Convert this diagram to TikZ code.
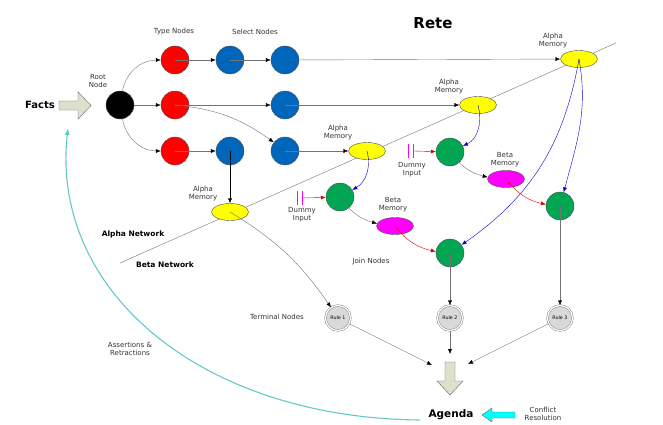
\documentclass[tikz,border=0pt]{standalone}
\usepackage{fontspec}
\setmainfont{DejaVu Sans}
\usetikzlibrary{arrows.meta,shapes.geometric}
\definecolor{selblue}{RGB}{0,102,187}
\definecolor{joingreen}{RGB}{0,166,81}
\definecolor{factgray}{RGB}{221,224,203}
\definecolor{assertcyan}{RGB}{100,200,205}
\definecolor{memyellow}{RGB}{255,255,0}
\definecolor{memmagenta}{RGB}{255,0,255}
\definecolor{cflcyan}{RGB}{0,255,255}

\begin{document}
\begin{tikzpicture}[x=1pt,y=1pt,
  every node/.style={font=\fontsize{7}{8}\selectfont},
  ball/.style={circle,draw=black!70,minimum size=28pt,inner sep=0pt},
  typenode/.style={ball,fill=red},
  selnode/.style={ball,fill=selblue},
  joinnode/.style={ball,fill=joingreen},
  alphamem/.style={ellipse,draw=black!70,fill=memyellow,minimum width=37pt,minimum height=17pt,inner sep=0pt},
  betamem/.style={alphamem,fill=memmagenta},
  termnode/.style={circle,draw=black!55,double=white,double distance=1.3pt,fill=gray!30,minimum size=25pt,inner sep=0pt,font=\fontsize{4.8}{5}\selectfont},
  lbl/.style={align=center,text=black!80},
  netlbl/.style={font=\bfseries\fontsize{7.5}{8}\selectfont},
  dummybar/.style={minimum width=5pt,minimum height=13pt,inner sep=0pt},
  link/.style={draw=black!55,-{Latex[black,length=5pt,width=4pt]}},
  alphaedge/.style={draw=blue!80!black,-{Latex[length=5pt,width=4pt]}},
  betaedge/.style={draw=red!85!black,-{Latex[length=5pt,width=4pt]}},
  bigarrow/.style={draw=black!60,fill=factgray}]

\useasboundingbox (0,0) rectangle (663,424);

% titles and labels
\node[font=\bfseries\fontsize{15}{16}\selectfont] (title) at (433,401) {Rete};
\node[font=\bfseries\fontsize{10}{11}\selectfont] (facts) at (40,319) {Facts};
\node[font=\bfseries\fontsize{10.5}{11}\selectfont] (agenda) at (451,9) {Agenda};
\node[lbl] (rootlbl) at (98,343) {Root\\Node};
\node[lbl] (typelbl) at (174,392) {Type Nodes};
\node[lbl] (sellbl) at (255,392) {Select Nodes};
\node[lbl] (a1lbl) at (553,383) {Alpha\\Memory};
\node[lbl] (a2lbl) at (449,337) {Alpha\\Memory};
\node[lbl] (a3lbl) at (338,291) {Alpha\\Memory};
\node[lbl] (a4lbl) at (203,230) {Alpha\\Memory};
\node[lbl] (b1lbl) at (505,264) {Beta\\Memory};
\node[lbl] (b2lbl) at (393,219) {Beta\\Memory};
\node[lbl] (d1lbl) at (412,254) {Dummy\\Input};
\node[lbl] (d2lbl) at (302,209) {Dummy\\Input};
\node[lbl] (joinlbl) at (371,162) {Join Nodes};
\node[lbl] (termlbl) at (277,107) {Terminal Nodes};
\node[lbl] (asrtlbl) at (130,75) {Assertions \&\\Retractions};
\node[lbl] (cfllbl) at (543,10) {Conflict\\Resolution};
\node[netlbl] (alphanet) at (133,190) {Alpha Network};
\node[netlbl] (betanet) at (165,159) {Beta Network};

% network border
\coordinate (nw1) at (120,161);
\coordinate (nw2) at (616,381);
\draw[black!55] (nw1) -- (nw2);

% big arrows
\draw[bigarrow] (59,314) -- (78,314) -- (78,305) -- (91,318.5) -- (78,332) -- (78,323) -- (59,323) -- cycle;
\draw[bigarrow] (445,62) -- (455,62) -- (455,43) -- (463,43) -- (450,29) -- (437,43) -- (445,43) -- cycle;
\draw[bigarrow,fill=cflcyan] (515,6) -- (492,6) -- (492,2) -- (482,9) -- (492,16) -- (492,12) -- (515,12) -- cycle;

% alpha network nodes
\node[ball,fill=black] (root) at (120,319) {};
\node[typenode] (t1) at (175,364) {};
\node[typenode] (t2) at (175,319) {};
\node[typenode] (t3) at (175,273) {};
\node[selnode] (s1) at (230,364) {};
\node[selnode] (s2) at (285,364) {};
\node[selnode] (s3) at (285,319) {};
\node[selnode] (s4) at (230,273) {};
\node[selnode] (s5) at (285,273) {};
\node[alphamem] (a1) at (579,365) {};
\node[alphamem] (a2) at (478,319) {};
\node[alphamem] (a3) at (367,273) {};
\node[alphamem] (a4) at (230,212) {};

% beta network nodes
\node[joinnode] (j1) at (450,272) {};
\node[joinnode] (j2) at (340,227) {};
\node[joinnode] (j3) at (560,218) {};
\node[joinnode] (j4) at (450,171) {};
\node[betamem] (b1) at (506,245) {};
\node[betamem] (b2) at (395,198) {};
\node[dummybar] (d1) at (411,273) {};
\node[dummybar] (d2) at (300,226) {};
\draw[memmagenta,line width=1.4pt] (d1.north west) -- (d1.south west) (d1.north east) -- (d1.south east);
\draw[memmagenta,line width=1.4pt] (d2.north west) -- (d2.south west) (d2.north east) -- (d2.south east);
\node[termnode] (r1) at (338,106) {Rule 1};
\node[termnode] (r2) at (450,106) {Rule 2};
\node[termnode] (r3) at (560,106) {Rule 3};

\coordinate (ag1) at (432,59);
\coordinate (ag2) at (450,70);
\coordinate (ag3) at (468,60);
\coordinate (asrt) at (420,4);
\coordinate (factin) at (68,296);

%arcs
\path (root) edge[link,out=80,in=180] (t1);
\path (root) edge[link] (t2);
\path (root) edge[link,out=-80,in=180] (t3);
\path (t1.center) edge[link] (s1);
\path (s1.center) edge[link] (s2);
\path (s2.center) edge[link] (a1);
\path (t2.center) edge[link] (s3);
\path (t2.center) edge[link,bend left=15] (s5);
\path (s3.center) edge[link] (a2);
\path (t3.center) edge[link] (s4);
\path (s5.center) edge[link] (a3);
\path (s4.center) edge[link,draw=black] (a4);

\path (a3.center) edge[alphaedge,out=-75,in=30] (j2);
\path (a2.center) edge[alphaedge,out=-75,in=25] (j1);
\path (a1.center) edge[alphaedge,out=-80,in=75] (j3);
\path (a1.center) edge[alphaedge,out=-100,in=35] (j4);

\path (d1.east) edge[betaedge] (j1);
\path (d2.east) edge[betaedge] (j2);
\path (j1.center) edge[link,bend right=20] (b1);
\path (b1.center) edge[betaedge,bend right=20] (j3);
\path (j2.center) edge[link,bend right=20] (b2);
\path (b2.center) edge[betaedge,bend right=20] (j4);

\path (j4.center) edge[link] (r2);
\path (j3.center) edge[link] (r3);
\path (a4.center) edge[link,bend left=12] (r1);
\path (r1) edge[link] (ag1);
\path (r2) edge[link] (ag2);
\path (r3) edge[link] (ag3);

\draw[assertcyan,line width=1.1pt,-{Latex[length=7pt,width=5pt]}] (asrt) .. controls (200,6) and (50,134) .. (factin);

\end{tikzpicture}
\end{document}
